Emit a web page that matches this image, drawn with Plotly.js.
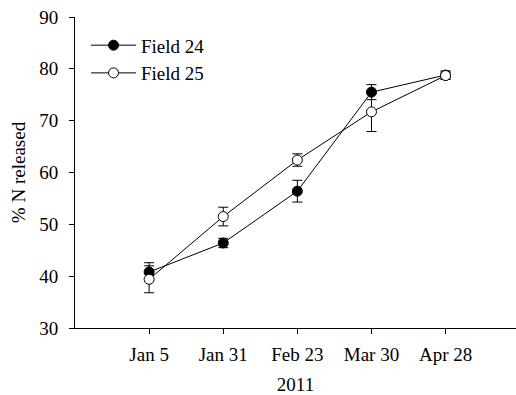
<!DOCTYPE html>
<html>
<head>
<meta charset="utf-8">
<script src="https://cdn.plot.ly/plotly-3.0.1.min.js"></script>
<style>html,body{margin:0;padding:0;background:#fff;}</style>
</head>
<body>
<div id="chart" style="width:516px;height:395px;"></div>
<script>
const dates = ["Jan 5", "Jan 31", "Feb 23", "Mar 30", "Apr 28"];
const field24 = [40.8, 46.4, 56.4, 75.5, 78.8];
const field24Err = [1.8, 0.9, 2.1, 1.45, 0.8];
const field25 = [39.4, 51.5, 62.4, 71.7, 78.7];
const field25Err = [2.6, 1.8, 1.2, 3.8, 0.7];
const yTicks = [30, 40, 50, 60, 70, 80, 90];

const font = {family: "Liberation Serif, Times New Roman, serif", size: 19, color: "#000"};

const traces = [
  {
    x: dates, y: field24, name: "Field 24", type: "scatter", mode: "lines+markers",
    line: {color: "#000", width: 1},
    marker: {symbol: "circle", size: 10, color: "#000", line: {color: "#000", width: 1}},
    error_y: {type: "data", array: field24Err, visible: true, color: "#000", thickness: 1, width: 5}
  },
  {
    x: dates, y: field25, name: "Field 25", type: "scatter", mode: "lines+markers",
    line: {color: "#000", width: 1},
    marker: {symbol: "circle", size: 10, color: "#fff", line: {color: "#000", width: 1}},
    error_y: {type: "data", array: field25Err, visible: true, color: "#000", thickness: 1, width: 5}
  }
];

const layout = {
  width: 516, height: 395,
  margin: {l: 75, r: 0, t: 17, b: 67},
  paper_bgcolor: "#fff", plot_bgcolor: "#fff",
  font: font,
  showlegend: true,
  legend: {x: 0.025, y: 0.97, xanchor: "left", yanchor: "top", bgcolor: "rgba(0,0,0,0)",
           font: font, tracegroupgap: 0, itemwidth: 45},
  xaxis: {
    type: "category", range: [-1, 4.95],
    showline: true, linecolor: "#000", linewidth: 1, mirror: false,
    showgrid: false, zeroline: false,
    ticks: "outside", ticklen: 5, tickcolor: "#000", tickwidth: 1,
    ticklabelstandoff: 4,
    tickfont: font,
    title: {text: "2011", font: font, standoff: 14}
  },
  yaxis: {
    range: [30, 90], tickvals: yTicks,
    showline: true, linecolor: "#000", linewidth: 1, mirror: false,
    showgrid: false, zeroline: false,
    ticks: "outside", ticklen: 5, tickcolor: "#000", tickwidth: 1,
    ticklabelstandoff: 7,
    tickfont: font,
    title: {text: "% N released", font: font, standoff: 8}
  }
};

Plotly.newPlot("chart", traces, layout, {displayModeBar: false, staticPlot: true});
</script>
</body>
</html>
